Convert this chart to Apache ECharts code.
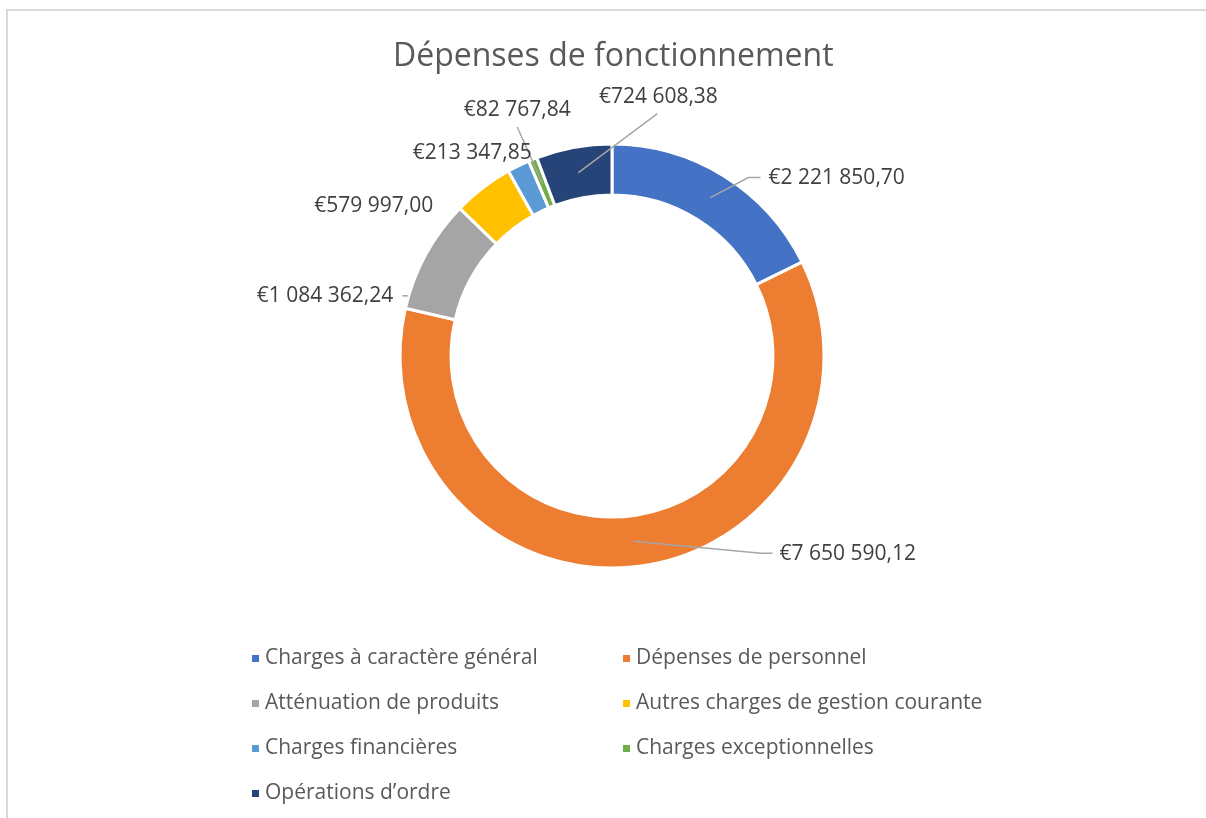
<!DOCTYPE html>
<html>
<head>
<meta charset="utf-8">
<script src="https://cdn.jsdelivr.net/npm/echarts@6/dist/echarts.min.js"></script>
<style>
html,body{margin:0;padding:0;background:#fff;}
#chart{width:1206px;height:818px;}
</style>
</head>
<body>
<div id="chart"></div>
<script>
const title = 'Dépenses de fonctionnement';
const categories = [
  'Charges à caractère général',
  'Dépenses de personnel',
  'Atténuation de produits',
  'Autres charges de gestion courante',
  'Charges financières',
  'Charges exceptionnelles',
  'Opérations d\u2019ordre'
];
const values = [2221850.70, 7650590.12, 1084362.24, 579997.00, 213347.85, 82767.84, 724608.38];
const colors = ['#4472C4', '#ED7D31', '#A5A5A5', '#FFC000', '#5B9BD5', '#70AD47', '#264478'];

// label placement (style): offset of label from the mid-ring anchor of each slice,
// plus label line bend/end offsets (null = no line)
const labelPlacement = [
  { dx: 58,  dy: -20, align: 'left',   line: [[38, -20], [50, -20]] },
  { dx: 146, dy: 13,  align: 'left',   line: [[127, 12], [139, 12]] },
  { dx: -55, dy: 29,  align: 'right',  line: [[-46, 29], [-40, 29]], fromEnd: true },
  { dx: -65, dy: -2,  align: 'right',  line: null },
  { dx: 2,   dy: -36, align: 'right',  line: null },
  { dx: -25, dy: -73, align: 'center', line: [[-25, -56], [-25, -56]] },
  { dx: 80,  dy: -76, align: 'center', line: [[79, -59], [79, -59]] }
];

function fmt(v) {
  const parts = v.toFixed(2).split('.');
  const intPart = parts[0].replace(/\B(?=(\d{3})+(?!\d))/g, ' ');
  return '€' + intPart + ',' + parts[1];
}

const CX = 612, CY = 356, R_IN = 161, R_OUT = 212;
const total = values.reduce((a, b) => a + b, 0);
const anchors = [];
(function () {
  let acc = 0;
  const rMid = (R_IN + R_OUT) / 2;
  values.forEach(v => {
    const mid = (acc + v / 2) / total * Math.PI * 2; // clockwise from top
    anchors.push([CX + rMid * Math.sin(mid), CY - rMid * Math.cos(mid)]);
    acc += v;
  });
})();

const chart = echarts.init(document.getElementById('chart'));
const fontFam = '"Open Sans", "Noto Sans", sans-serif';

const baseSeries = {
  type: 'pie',
  center: [CX, CY],
  radius: [R_IN, R_OUT],
  startAngle: 90,
  clockwise: true,
  avoidLabelOverlap: false
};

chart.setOption({
  backgroundColor: '#fff',
  animation: false,
  title: {
    text: title,
    left: 388,
    top: 36,
    textStyle: { fontFamily: fontFam, fontSize: 32, fontWeight: 'normal', color: '#595959' }
  },
  graphic: [{
    type: 'rect',
    shape: { x: 7, y: 10, width: 1230, height: 850 },
    style: { fill: 'none', stroke: '#d9d9d9', lineWidth: 2 },
    silent: true
  }],
  legend: {
    left: 245,
    top: 643,
    width: 770,
    orient: 'horizontal',
    icon: 'rect',
    itemWidth: 9,
    itemHeight: 9,
    itemGap: 24,
    textStyle: { fontFamily: fontFam, fontSize: 21, color: '#595959', width: 332, lineHeight: 18 },
    data: categories
  },
  series: [
    Object.assign({}, baseSeries, {
      z: 2,
      itemStyle: { borderColor: '#fff', borderWidth: 3 },
      label: { show: false },
      labelLine: { show: false },
      data: categories.map((c, i) => ({ name: c, value: values[i], itemStyle: { color: colors[i] } }))
    }),
    // overlay series: transparent sectors, carries labels and leader lines above the ring
    Object.assign({}, baseSeries, {
      z: 3,
      silent: true,
      legendHoverLink: false,
      itemStyle: { color: 'rgba(0,0,0,0)', borderWidth: 0 },
      label: {
        show: true,
        position: 'outside',
        formatter: p => fmt(p.value),
        fontFamily: fontFam,
        fontSize: 21,
        color: '#404040'
      },
      labelLine: { show: true, showAbove: true, lineStyle: { color: '#A6A6A6', width: 1.5 } },
      labelLayout: function (params) {
        const i = params.dataIndex;
        const lp = labelPlacement[i];
        const a = anchors[i];
        const res = {
          x: a[0] + lp.dx,
          y: a[1] + lp.dy,
          align: lp.align,
          verticalAlign: 'middle'
        };
        if (lp.line) {
          const p1 = [a[0] + lp.line[0][0], a[1] + lp.line[0][1]];
          const p2 = [a[0] + lp.line[1][0], a[1] + lp.line[1][1]];
          res.labelLinePoints = lp.fromEnd ? [p2, p1, p1] : [a.slice(), p1, p2];
        }
        return res;
      },
      data: categories.map((c, i) => ({
        name: c,
        value: values[i],
        labelLine: { show: !!labelPlacement[i].line }
      }))
    })
  ]
});
</script>
</body>
</html>
